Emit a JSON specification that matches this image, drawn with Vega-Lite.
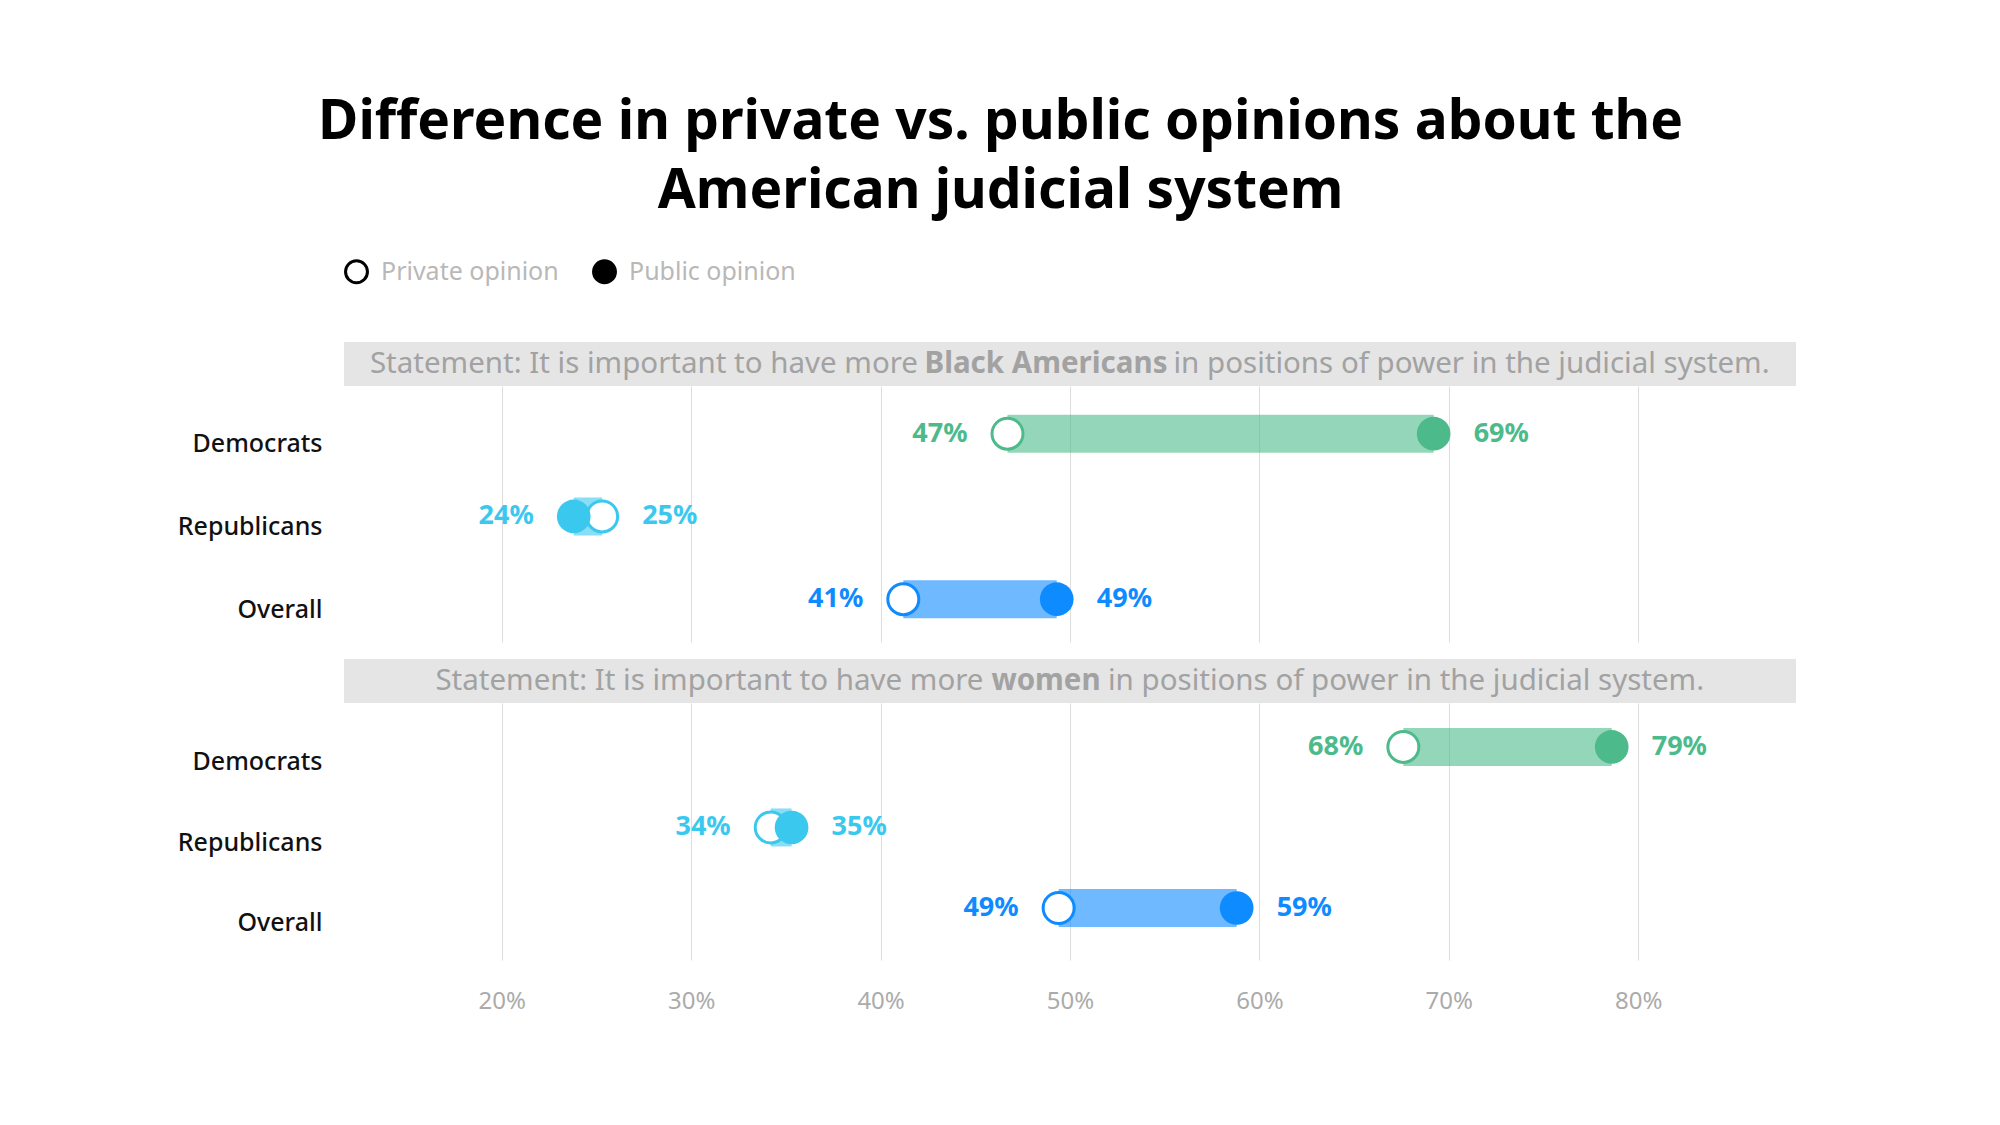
{
  "$schema": "https://vega.github.io/schema/vega-lite/v6.json",
  "padding": {"left": 177, "top": 95, "right": 20, "bottom": 20},
  "background": "white",
  "title": {
    "text": ["Difference in private vs. public opinions about the", "American judicial system"],
    "fontSize": 55, "font": "Noto Sans", "fontWeight": "bold", "color": "#000000",
    "lineHeight": 69, "anchor": "middle", "frame": "bounds", "offset": 39, "dx": 14
  },
  "config": {"view": {"stroke": null}, "font": "Noto Sans"},
  "datasets": {
    "opinions": [
      {"statement": "Black Americans", "group": "Democrats", "opinion": "Private opinion", "value": 0.467},
      {"statement": "Black Americans", "group": "Democrats", "opinion": "Public opinion", "value": 0.692},
      {"statement": "Black Americans", "group": "Republicans", "opinion": "Private opinion", "value": 0.253},
      {"statement": "Black Americans", "group": "Republicans", "opinion": "Public opinion", "value": 0.238},
      {"statement": "Black Americans", "group": "Overall", "opinion": "Private opinion", "value": 0.412},
      {"statement": "Black Americans", "group": "Overall", "opinion": "Public opinion", "value": 0.493},
      {"statement": "women", "group": "Democrats", "opinion": "Private opinion", "value": 0.676},
      {"statement": "women", "group": "Democrats", "opinion": "Public opinion", "value": 0.786},
      {"statement": "women", "group": "Republicans", "opinion": "Private opinion", "value": 0.342},
      {"statement": "women", "group": "Republicans", "opinion": "Public opinion", "value": 0.353},
      {"statement": "women", "group": "Overall", "opinion": "Private opinion", "value": 0.494},
      {"statement": "women", "group": "Overall", "opinion": "Public opinion", "value": 0.588}
    ],
    "statements": [
      {"statement": "Black Americans", "before": "Statement: It is important to have more", "bold": "Black Americans", "after": "in positions of power in the judicial system."},
      {"statement": "women", "before": "Statement: It is important to have more", "bold": "women", "after": "in positions of power in the judicial system."}
    ],
    "legendItems": [
      {"opinion": "Private opinion"},
      {"opinion": "Public opinion"}
    ]
  },
  "spacing": 17,
  "resolve": {"scale": {"fill": "independent"}, "legend": {"fill": "independent"}},
  "vconcat": [
    {
      "spacing": 0,
      "resolve": {"scale": {"fill": "independent"}, "legend": {"fill": "independent"}},
      "vconcat": [
        {
          "width": 1452, "height": 44,
          "view": {"fill": "#e5e5e5", "stroke": null},
          "layer": [
            {
              "data": {"name": "statements"},
              "transform": [{"filter": "datum.statement === 'Black Americans'"}],
              "mark": {"type": "text", "align": "right", "dx": -152, "fontSize": 29.5, "color": "#a2a2a2"},
              "encoding": {
                "x": {"datum": 0.5, "type": "quantitative", "scale": {"domain": [0.1167, 0.8833], "nice": false, "zero": false}, "axis": null},
                "text": {"field": "before"}
              }
            },
            {
              "data": {"name": "statements"},
              "transform": [{"filter": "datum.statement === 'Black Americans'"}],
              "mark": {"type": "text", "align": "center", "dx": -24, "fontSize": 29.5, "fontWeight": "bold", "color": "#a2a2a2"},
              "encoding": {
                "x": {"datum": 0.5, "type": "quantitative"},
                "text": {"field": "bold"}
              }
            },
            {
              "data": {"name": "statements"},
              "transform": [{"filter": "datum.statement === 'Black Americans'"}],
              "mark": {"type": "text", "align": "left", "dx": 103.5, "fontSize": 29.5, "color": "#a2a2a2"},
              "encoding": {
                "x": {"datum": 0.5, "type": "quantitative"},
                "text": {"field": "after"}
              }
            },
            {
              "data": {"name": "legendItems"},
              "mark": {"type": "point", "shape": "circle", "filled": true, "stroke": "black", "strokeWidth": 3, "size": 480, "opacity": 1},
              "encoding": {
                "x": {"field": "missing", "type": "quantitative"},
                "fill": {
                  "field": "opinion", "type": "nominal",
                  "scale": {"domain": ["Private opinion", "Public opinion"], "range": ["white", "black"]},
                  "legend": {
                    "title": null, "orient": "top", "direction": "horizontal", "symbolType": "circle",
                    "symbolSize": 480, "symbolStrokeWidth": 3, "symbolStrokeColor": "black", "symbolOpacity": 1,
                    "labelFontSize": 25, "labelFont": "Noto Sans", "labelColor": "#b8b8b8", "labelLimit": 0,
                    "labelOffset": 12, "columnPadding": 28, "offset": 53, "padding": 0
                  }
                }
              }
            }
          ]
        },
        {
          "width": 1452, "height": 256,
          "data": {"name": "opinions"},
          "transform": [
            {"filter": "datum.statement === 'Black Americans'"},
            {"joinaggregate": [{"op": "min", "field": "value", "as": "lo"}, {"op": "max", "field": "value", "as": "hi"}], "groupby": ["group"]}
          ],
          "encoding": {
            "y": {
              "field": "group", "type": "nominal",
              "scale": {"type": "point", "domain": ["Democrats", "Republicans", "Overall"], "padding": 0.547, "align": 0.527},
              "axis": {"title": null, "domain": false, "ticks": false, "labelPadding": 22, "labelFontSize": 25, "labelFontWeight": 500, "labelColor": "#111111", "labelOffset": 10}
            }
          },
          "layer": [
            {
              "transform": [{"filter": "datum.opinion === 'Private opinion'"}],
              "mark": {"type": "rule", "strokeWidth": 38, "opacity": 0.6},
              "encoding": {
                "x": {
                  "field": "lo", "type": "quantitative",
                  "scale": {"domain": [0.1167, 0.8833], "nice": false, "zero": false},
                  "axis": {"values": [0.2, 0.3, 0.4, 0.5, 0.6, 0.7, 0.8], "format": ".0%", "grid": true, "gridColor": "#dddddd", "labels": false, "ticks": false, "domain": false, "title": null}
                },
                "x2": {"field": "hi"},
                "color": {"field": "group", "type": "nominal", "scale": {"domain": ["Democrats", "Republicans", "Overall"], "range": ["#4dba8b", "#3bc8ef", "#0e8bff"]}, "legend": null}
              }
            },
            {
              "transform": [{"filter": "datum.opinion === 'Private opinion'"}],
              "mark": {"type": "point", "shape": "circle", "filled": true, "fill": "white", "strokeWidth": 3, "size": 960, "opacity": 1},
              "encoding": {
                "x": {"field": "value", "type": "quantitative"},
                "stroke": {"field": "group", "type": "nominal", "scale": {"domain": ["Democrats", "Republicans", "Overall"], "range": ["#4dba8b", "#3bc8ef", "#0e8bff"]}, "legend": null}
              }
            },
            {
              "transform": [{"filter": "datum.opinion === 'Public opinion'"}],
              "mark": {"type": "point", "shape": "circle", "filled": true, "size": 1134, "opacity": 1},
              "encoding": {
                "x": {"field": "value", "type": "quantitative"},
                "color": {"field": "group", "type": "nominal", "legend": null}
              }
            },
            {
              "transform": [{"filter": "datum.value === datum.lo"}],
              "mark": {"type": "text", "align": "right", "baseline": "middle", "dx": -40, "fontSize": 27, "fontWeight": "bold"},
              "encoding": {
                "x": {"field": "value", "type": "quantitative"},
                "text": {"field": "value", "format": ".0%"},
                "color": {"field": "group", "type": "nominal", "legend": null}
              }
            },
            {
              "transform": [{"filter": "datum.value === datum.hi"}],
              "mark": {"type": "text", "align": "left", "baseline": "middle", "dx": 40, "fontSize": 27, "fontWeight": "bold"},
              "encoding": {
                "x": {"field": "value", "type": "quantitative"},
                "text": {"field": "value", "format": ".0%"},
                "color": {"field": "group", "type": "nominal", "legend": null}
              }
            }
          ]
        }
      ]
    },
    {
      "spacing": 0,
      "vconcat": [
        {
          "width": 1452, "height": 44,
          "view": {"fill": "#e5e5e5", "stroke": null},
          "data": {"name": "statements"},
          "transform": [{"filter": "datum.statement === 'women'"}],
          "layer": [
            {
              "mark": {"type": "text", "align": "right", "dx": -86.5, "fontSize": 29.5, "color": "#a2a2a2"},
              "encoding": {
                "x": {"datum": 0.5, "type": "quantitative", "scale": {"domain": [0.1167, 0.8833], "nice": false, "zero": false}, "axis": null},
                "text": {"field": "before"}
              }
            },
            {
              "mark": {"type": "text", "align": "center", "dx": -24, "fontSize": 29.5, "fontWeight": "bold", "color": "#a2a2a2"},
              "encoding": {
                "x": {"datum": 0.5, "type": "quantitative"},
                "text": {"field": "bold"}
              }
            },
            {
              "mark": {"type": "text", "align": "left", "dx": 38, "fontSize": 29.5, "color": "#a2a2a2"},
              "encoding": {
                "x": {"datum": 0.5, "type": "quantitative"},
                "text": {"field": "after"}
              }
            }
          ]
        },
        {
          "width": 1452, "height": 257,
          "data": {"name": "opinions"},
          "transform": [
            {"filter": "datum.statement === 'women'"},
            {"joinaggregate": [{"op": "min", "field": "value", "as": "lo"}, {"op": "max", "field": "value", "as": "hi"}], "groupby": ["group"]}
          ],
          "encoding": {
            "y": {
              "field": "group", "type": "nominal",
              "scale": {"type": "point", "domain": ["Democrats", "Republicans", "Overall"], "padding": 0.596, "align": 0.458},
              "axis": {"title": null, "domain": false, "ticks": false, "labelPadding": 22, "labelFontSize": 25, "labelFontWeight": 500, "labelColor": "#111111", "labelOffset": 15}
            }
          },
          "layer": [
            {
              "transform": [{"filter": "datum.opinion === 'Private opinion'"}],
              "mark": {"type": "rule", "strokeWidth": 38, "opacity": 0.6},
              "encoding": {
                "x": {
                  "field": "lo", "type": "quantitative",
                  "scale": {"domain": [0.1167, 0.8833], "nice": false, "zero": false},
                  "axis": {"values": [0.2, 0.3, 0.4, 0.5, 0.6, 0.7, 0.8], "format": ".0%", "grid": true, "gridColor": "#dddddd", "ticks": false, "domain": false, "title": null, "labelFontSize": 24, "labelColor": "#ababab", "labelPadding": 29}
                },
                "x2": {"field": "hi"},
                "color": {"field": "group", "type": "nominal", "scale": {"domain": ["Democrats", "Republicans", "Overall"], "range": ["#4dba8b", "#3bc8ef", "#0e8bff"]}, "legend": null}
              }
            },
            {
              "transform": [{"filter": "datum.opinion === 'Private opinion'"}],
              "mark": {"type": "point", "shape": "circle", "filled": true, "fill": "white", "strokeWidth": 3, "size": 960, "opacity": 1},
              "encoding": {
                "x": {"field": "value", "type": "quantitative"},
                "stroke": {"field": "group", "type": "nominal", "scale": {"domain": ["Democrats", "Republicans", "Overall"], "range": ["#4dba8b", "#3bc8ef", "#0e8bff"]}, "legend": null}
              }
            },
            {
              "transform": [{"filter": "datum.opinion === 'Public opinion'"}],
              "mark": {"type": "point", "shape": "circle", "filled": true, "size": 1134, "opacity": 1},
              "encoding": {
                "x": {"field": "value", "type": "quantitative"},
                "color": {"field": "group", "type": "nominal", "legend": null}
              }
            },
            {
              "transform": [{"filter": "datum.value === datum.lo"}],
              "mark": {"type": "text", "align": "right", "baseline": "middle", "dx": -40, "fontSize": 27, "fontWeight": "bold"},
              "encoding": {
                "x": {"field": "value", "type": "quantitative"},
                "text": {"field": "value", "format": ".0%"},
                "color": {"field": "group", "type": "nominal", "legend": null}
              }
            },
            {
              "transform": [{"filter": "datum.value === datum.hi"}],
              "mark": {"type": "text", "align": "left", "baseline": "middle", "dx": 40, "fontSize": 27, "fontWeight": "bold"},
              "encoding": {
                "x": {"field": "value", "type": "quantitative"},
                "text": {"field": "value", "format": ".0%"},
                "color": {"field": "group", "type": "nominal", "legend": null}
              }
            }
          ]
        }
      ]
    }
  ]
}
